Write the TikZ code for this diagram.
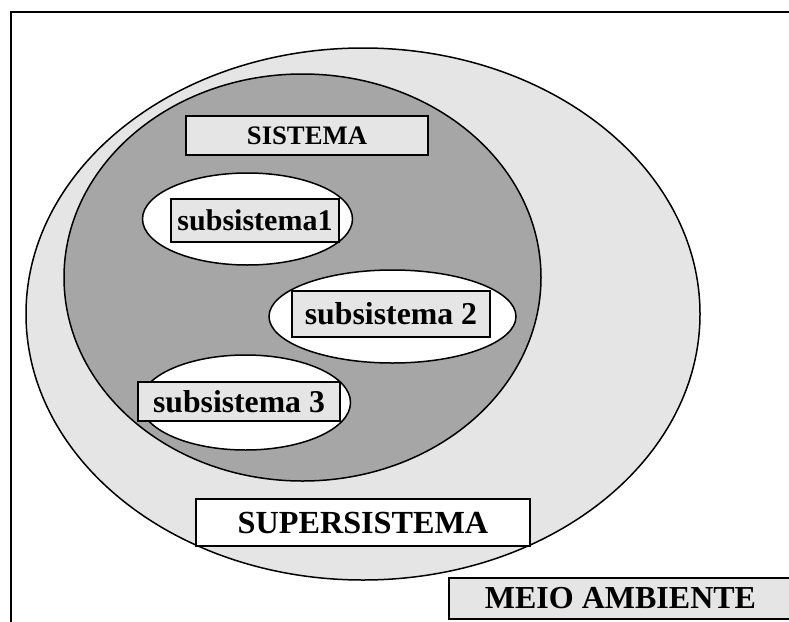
\documentclass[tikz,border=0pt]{standalone}
\usepackage{fontspec}
\setmainfont{Liberation Serif}
\usetikzlibrary{shapes.geometric}
\definecolor{lightg}{HTML}{E5E5E5}
\definecolor{darkg}{HTML}{A6A6A6}
\tikzset{
  oval/.style={ellipse, draw=black, line width=1.5pt, inner sep=0pt},
  labelbox/.style={rectangle, draw=black, line width=2pt, fill=lightg, inner sep=0pt, font=\bfseries},
}
\newcommand{\fs}[1]{\fontsize{#1}{#1}\selectfont}
\begin{document}
\begin{tikzpicture}[x=1pt,y=-1pt]
\useasboundingbox (0,0) rectangle (789,621);
\clip (0,0) rectangle (789,621);
% ellipses
\node[oval, fill=lightg, minimum width=674pt, minimum height=532pt] (super) at (363,314) {};
\node[oval, fill=darkg, minimum width=477pt, minimum height=407pt] (sistema) at (302.5,277.5) {};
\node[oval, fill=white, minimum width=210pt, minimum height=92pt] (e1) at (247.5,219) {};
\node[oval, fill=white, minimum width=247pt, minimum height=93pt] (e2) at (392.5,316.5) {};
\node[oval, fill=white, minimum width=210pt, minimum height=95pt] (e3) at (245.5,402.5) {};
% label boxes
\node[labelbox, minimum width=242pt, minimum height=39pt] (sis) at (307,135.5) {\fs{26.7}SISTEMA};
\node[labelbox, minimum width=168pt, minimum height=43pt] (s1) at (255,220.5) {\fs{30}subsistema1};
\node[labelbox, minimum width=198pt, minimum height=46pt] (s2) at (391,314) {\fs{31.8}subsistema 2};
\node[labelbox, minimum width=202pt, minimum height=39pt] (s3) at (239,401.7) {\fs{31.7}subsistema 3};
\node[labelbox, fill=white, minimum width=334pt, minimum height=47pt] (sup) at (363,522.5) {\fs{32.2}SUPERSISTEMA};
\node[labelbox, minimum width=343pt, minimum height=41pt] (meio) at (620.5,598.5) {\fs{32}MEIO AMBIENTE};
% frame
\coordinate (fb) at (11,625);
\coordinate (fc) at (11,12);
\coordinate (fr) at (795,12);
\draw[line width=2.6pt] (fb) -- (fc) -- (fr);
\end{tikzpicture}
\end{document}
